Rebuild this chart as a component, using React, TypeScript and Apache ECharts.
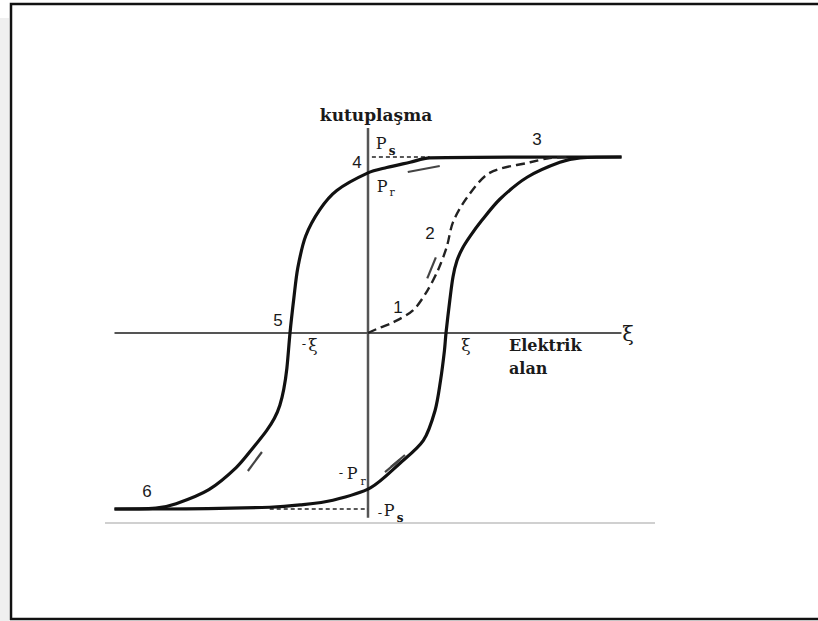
import React, { useEffect, useRef } from "react";
import * as echarts from "echarts";

// Data units: x in multiples of the coercive field ξ, y in multiples of Ps
const descendingBranch: [number, number][] = [
  [3.25, 1], [0.79, 0.995], [0.54, 0.97], [0.24, 0.94], [0, 0.91], [-0.4, 0.81],
  [-0.62, 0.7], [-0.8, 0.55], [-0.9, 0.37], [-0.95, 0.2], [-1.0, 0], [-1.04, -0.2],
  [-1.08, -0.32], [-1.13, -0.41], [-1.2, -0.485], [-1.3, -0.555], [-1.46, -0.645],
  [-1.69, -0.765], [-2.04, -0.89], [-2.46, -0.97], [-2.72, -0.995], [-3.25, -1],
];
const ascendingBranch: [number, number][] = [
  [-3.25, -1], [-2.6, -1], [-1.26, -0.99], [-0.87, -0.977], [-0.45, -0.95],
  [0.03, -0.88], [0.41, -0.74], [0.71, -0.61], [0.86, -0.44], [0.93, -0.27],
  [0.98, -0.1], [1.0, 0], [1.05, 0.19], [1.09, 0.32], [1.14, 0.41], [1.21, 0.48],
  [1.31, 0.55], [1.46, 0.64], [1.69, 0.76], [2.04, 0.885], [2.46, 0.97],
  [2.72, 0.995], [3.25, 1],
];
const initialCurve: [number, number][] = [
  [0, 0], [0.15, 0.03], [0.32, 0.06], [0.58, 0.13], [0.76, 0.24], [0.9, 0.36],
  [1.01, 0.49], [1.09, 0.63], [1.27, 0.77], [1.56, 0.91], [2.08, 0.97],
  [2.33, 0.994], [2.6, 1],
];
const axisH: [number, number][] = [[-3.25, 0], [3.25, 0]];
const axisV: [number, number][] = [[0, 1.165], [0, -1.05]];
const psGuide: [number, number][] = [[0.05, 1], [0.79, 1]];
const negPsGuide: [number, number][] = [[-1.26, -1], [0, -1]];
const arrowMarks: [number, number][][] = [
  [[0.51, 0.915], [0.92, 0.949]],
  [[0.76, 0.31], [0.87, 0.43]],
  [[-1.54, -0.784], [-1.36, -0.676]],
  [[0.218, -0.79], [0.41, -0.72]],
  [[0.295, -0.761], [0.474, -0.693]],
];

const X_MIN = -3.25, X_MAX = 3.25, Y_MIN = -1.1, Y_MAX = 1.17;

const SERIF = '"DejaVu Serif", serif';
const SANS = '"Liberation Sans", Arial, sans-serif';

function txt(text: string, x: number, y: number, size: number, family: string, weight = "normal", align = "center") {
  return {
    type: "text",
    x,
    y,
    silent: true,
    style: {
      text,
      fill: "#1a1a1a",
      fontSize: size,
      fontFamily: family,
      fontWeight: weight,
      align,
      verticalAlign: "middle",
    },
  };
}

export default function App() {
  const ref = useRef<HTMLDivElement>(null);
  useEffect(() => {
    if (!ref.current) return;
    const chart = echarts.init(ref.current, undefined, { renderer: "svg" });
    const lineBase = { type: "line", symbol: "none", silent: true, z: 3 };
    chart.setOption({
      animation: false,
      backgroundColor: "#ffffff",
      grid: { left: 114.5, right: 196.5, top: 127.08, bottom: 94.4 },
      xAxis: { type: "value", min: X_MIN, max: X_MAX, show: false },
      yAxis: { type: "value", min: Y_MIN, max: Y_MAX, show: false },
      series: [
        { ...lineBase, name: "axisH", data: axisH, lineStyle: { color: "#555", width: 2 }, z: 2 },
        { ...lineBase, name: "axisV", data: axisV, lineStyle: { color: "#555", width: 2.5 }, z: 2 },
        { ...lineBase, name: "Ps", data: psGuide, lineStyle: { color: "#222", width: 1.3, type: [4, 3] } },
        { ...lineBase, name: "-Ps", data: negPsGuide, lineStyle: { color: "#222", width: 1.3, type: [4, 3] } },
        { ...lineBase, name: "descending", data: descendingBranch, smooth: 0.3, lineStyle: { color: "#111", width: 3.2 } },
        { ...lineBase, name: "ascending", data: ascendingBranch, smooth: 0.3, lineStyle: { color: "#111", width: 3.2 } },
        { ...lineBase, name: "initial", data: initialCurve, smooth: 0.3, lineStyle: { color: "#222", width: 2.4, type: [9, 5] } },
        {
          type: "lines",
          coordinateSystem: "cartesian2d",
          silent: true,
          z: 4,
          data: arrowMarks.map((c) => ({ coords: c })),
          lineStyle: { color: "#444", width: 2.2, opacity: 1 },
        },
      ],
      graphic: [
        { type: "rect", shape: { x: 0, y: 18, width: 9, height: 603 }, style: { fill: "#efefef" }, silent: true },
        { type: "rect", shape: { x: 11, y: 4, width: 820, height: 615 }, style: { fill: "none", stroke: "#111", lineWidth: 2.5 }, silent: true },
        { type: "line", shape: { x1: 105, y1: 523, x2: 655, y2: 523 }, style: { stroke: "#d0d0d0", lineWidth: 2 }, silent: true },
        txt("kutuplaşma", 376, 115, 17, SERIF, "bold"),
        txt("P", 381, 143, 16, SERIF),
        txt("s", 392, 151, 12, SERIF, "bold"),
        txt("4", 357, 162, 17, SANS),
        txt("P", 382, 186, 16, SERIF),
        txt("r", 392, 192, 11, SERIF),
        txt("3", 537, 139, 17, SANS),
        txt("2", 430, 233, 17, SANS),
        txt("1", 398, 307, 17, SANS),
        txt("5", 278, 320, 17, SANS),
        txt("-", 304, 343, 13, SERIF),
        txt("ξ", 313, 345, 17, SERIF),
        txt("ξ", 466, 345, 17, SERIF),
        txt("Elektrik", 509, 345, 16, SERIF, "bold", "left"),
        txt("alan", 509, 368, 16, SERIF, "bold", "left"),
        txt("ξ", 628, 334, 21, SERIF),
        txt("6", 147, 491, 17, SANS),
        txt("-", 341, 472, 13, SERIF),
        txt("P", 352, 473, 16, SERIF),
        txt("r", 363, 481, 11, SERIF),
        txt("-", 380, 512, 13, SERIF),
        txt("P", 389, 510, 16, SERIF),
        txt("s", 400, 518, 12, SERIF, "bold"),
      ],
    });
    return () => chart.dispose();
  }, []);
  return (
    <div
      ref={ref}
      style={{ position: "fixed", left: 0, top: 0, width: 818, height: 621, background: "#fff" }}
    />
  );
}
